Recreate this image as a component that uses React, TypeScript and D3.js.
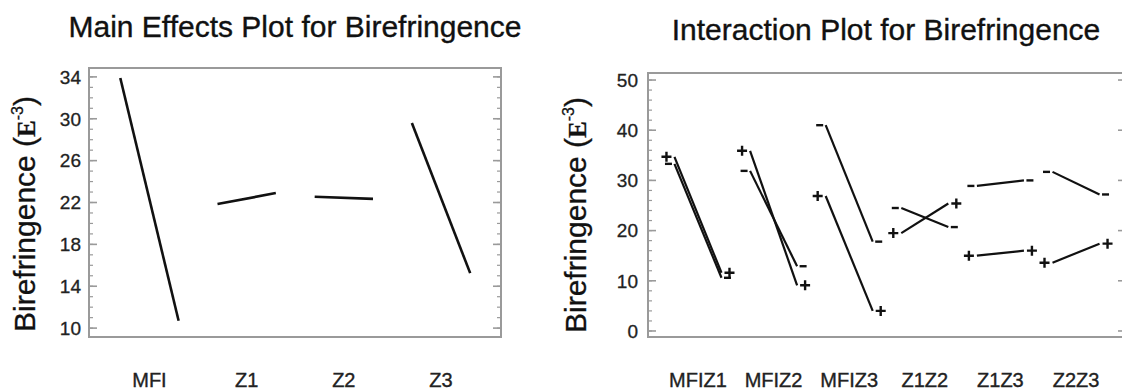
import React from 'react';
import * as d3 from 'd3';

// Main effects: mean birefringence at low and high level of each factor
const mainFactors = ['MFI', 'Z1', 'Z2', 'Z3'];
const mainLow = [33.9, 21.85, 22.55, 29.6];
const mainHigh = [10.7, 22.9, 22.35, 15.25];
const mainTicks = [10, 14, 18, 22, 26, 30, 34];

// Two-factor interactions: second factor at its "-" and "+" level
const interPairs = ['MFIZ1', 'MFIZ2', 'MFIZ3', 'Z1Z2', 'Z1Z3', 'Z2Z3'];
const minusLow = [33.3, 31.9, 41.0, 24.5, 28.9, 31.7];
const minusHigh = [10.6, 12.9, 17.8, 20.7, 30.0, 27.2];
const plusLow = [34.7, 35.9, 26.9, 19.5, 15.0, 13.6];
const plusHigh = [11.6, 9.1, 4.0, 25.4, 16.0, 17.4];
const interTicks = [0, 10, 20, 30, 40, 50];

const SANS = 'Liberation Sans, Arial, sans-serif';
const FRAME = '#9a9a9a';
const INK = '#111';

type Scale = d3.ScaleLinear<number, number>;

function Frame({ x, y, majors, minors, labelGap }: {
  x: Scale; y: Scale; majors: number[]; minors: number[]; labelGap: number;
}) {
  const [x0, x1] = x.range();
  const [y0, y1] = y.range();
  return (
    <g>
      <rect x={x0} y={y1} width={x1 - x0} height={y0 - y1} fill="none" stroke={FRAME} strokeWidth={2} />
      {minors.map((v) => (
        <g key={'m' + v} stroke={FRAME} strokeWidth={1.2}>
          <line x1={x0} x2={x0 + 4} y1={y(v)} y2={y(v)} />
          <line x1={x1} x2={x1 - 4} y1={y(v)} y2={y(v)} />
        </g>
      ))}
      {majors.map((v) => (
        <g key={'M' + v}>
          <line x1={x0} x2={x0 + 8} y1={y(v)} y2={y(v)} stroke={FRAME} strokeWidth={1.6} />
          <line x1={x1} x2={x1 - 8} y1={y(v)} y2={y(v)} stroke={FRAME} strokeWidth={1.6} />
          <text x={x0 - labelGap} y={y(v)} dy="0.36em" textAnchor="end" fontFamily={SANS} fontSize={19}
            fill="#222" stroke="#222" strokeWidth={0.3}>
            {v}
          </text>
        </g>
      ))}
    </g>
  );
}

function YTitle({ x, y }: { x: number; y: number }) {
  return (
    <text transform={`translate(${x},${y}) rotate(-90)`} fontFamily={SANS} fontSize={30} fill={INK}
      stroke={INK} strokeWidth={0.3}>
      Birefringence (
      <tspan fontFamily="Liberation Serif, Times New Roman, serif" fontWeight="bold" fontSize={25}>E</tspan>
      <tspan fontSize={16} dy={-12}>-3</tspan>
      <tspan dy={12}>)</tspan>
    </text>
  );
}

function Marker({ cx, cy, kind }: { cx: number; cy: number; kind: '+' | '-' }) {
  const d = kind === '+' ? 'M-5,0H5M0,-5V5' : 'M-3.5,0H3.5';
  return <path d={d} transform={`translate(${cx},${cy})`} stroke={INK} strokeWidth={2.4} fill="none" />;
}

export default function App() {
  // Left panel: main effects
  const xMain = d3.scaleLinear().domain([-0.622, 3.617]).range([89, 501]);
  const yMain = d3.scaleLinear().domain([9.15, 34.85]).range([337, 68]);
  const mainHalf = 0.3;
  const mainMinors = d3.range(10, 35, 1);

  // Right panel: interactions
  const xInt = d3.scaleLinear().domain([-0.661, 5.661]).range([648, 1126]);
  const yInt = d3.scaleLinear().domain([-1.2, 51.4]).range([337, 73]);
  const intHalf = 0.311;
  const intMinors = d3.range(0, 51, 2);
  const line = d3.line<[number, number]>();

  const series: { kind: '+' | '-'; low: number[]; high: number[] }[] = [
    { kind: '-', low: minusLow, high: minusHigh },
    { kind: '+', low: plusLow, high: plusHigh },
  ];

  return (
    <svg width={1122} height={392} style={{ position: 'absolute', left: 0, top: 0, background: '#fff' }}>
      <rect width={1122} height={392} fill="#fff" />

      {/* Main effects panel */}
      <text x={295} y={37} textAnchor="middle" fontFamily={SANS} fontSize={30} fill={INK}
        stroke={INK} strokeWidth={0.35}>
        Main Effects Plot for Birefringence
      </text>
      <Frame x={xMain} y={yMain} majors={mainTicks} minors={mainMinors} labelGap={8} />
      <YTitle x={35} y={332} />
      {mainFactors.map((f, i) => (
        <g key={f}>
          <path
            d={line([[xMain(i - mainHalf), yMain(mainLow[i])], [xMain(i + mainHalf), yMain(mainHigh[i])]]) ?? ''}
            stroke={INK}
            strokeWidth={2.6}
            fill="none"
          />
          <text x={xMain(i)} y={387} textAnchor="middle" fontFamily={SANS} fontSize={20} fill="#222"
            stroke="#222" strokeWidth={0.35}>
            {f}
          </text>
        </g>
      ))}

      {/* Interaction panel */}
      <text x={886} y={40} textAnchor="middle" fontFamily={SANS} fontSize={30} fill={INK}
        stroke={INK} strokeWidth={0.35}>
        Interaction Plot for Birefringence
      </text>
      <Frame x={xInt} y={yInt} majors={interTicks} minors={intMinors} labelGap={10} />
      <YTitle x={586} y={333} />
      {interPairs.map((p, i) => (
        <g key={p}>
          {series.map((s) => {
            const xa = xInt(i - intHalf);
            const xb = xInt(i + intHalf);
            const off = s.kind === '+' ? 8 : 6;
            return (
              <g key={s.kind}>
                <path
                  d={line([[xa, yInt(s.low[i])], [xb, yInt(s.high[i])]]) ?? ''}
                  stroke={INK}
                  strokeWidth={2.2}
                  fill="none"
                />
                <Marker cx={xa - off} cy={yInt(s.low[i])} kind={s.kind} />
                <Marker cx={xb + off} cy={yInt(s.high[i])} kind={s.kind} />
              </g>
            );
          })}
          <text x={xInt(i)} y={387} textAnchor="middle" fontFamily={SANS} fontSize={20} fill="#222"
            stroke="#222" strokeWidth={0.35}>
            {p}
          </text>
        </g>
      ))}
    </svg>
  );
}
